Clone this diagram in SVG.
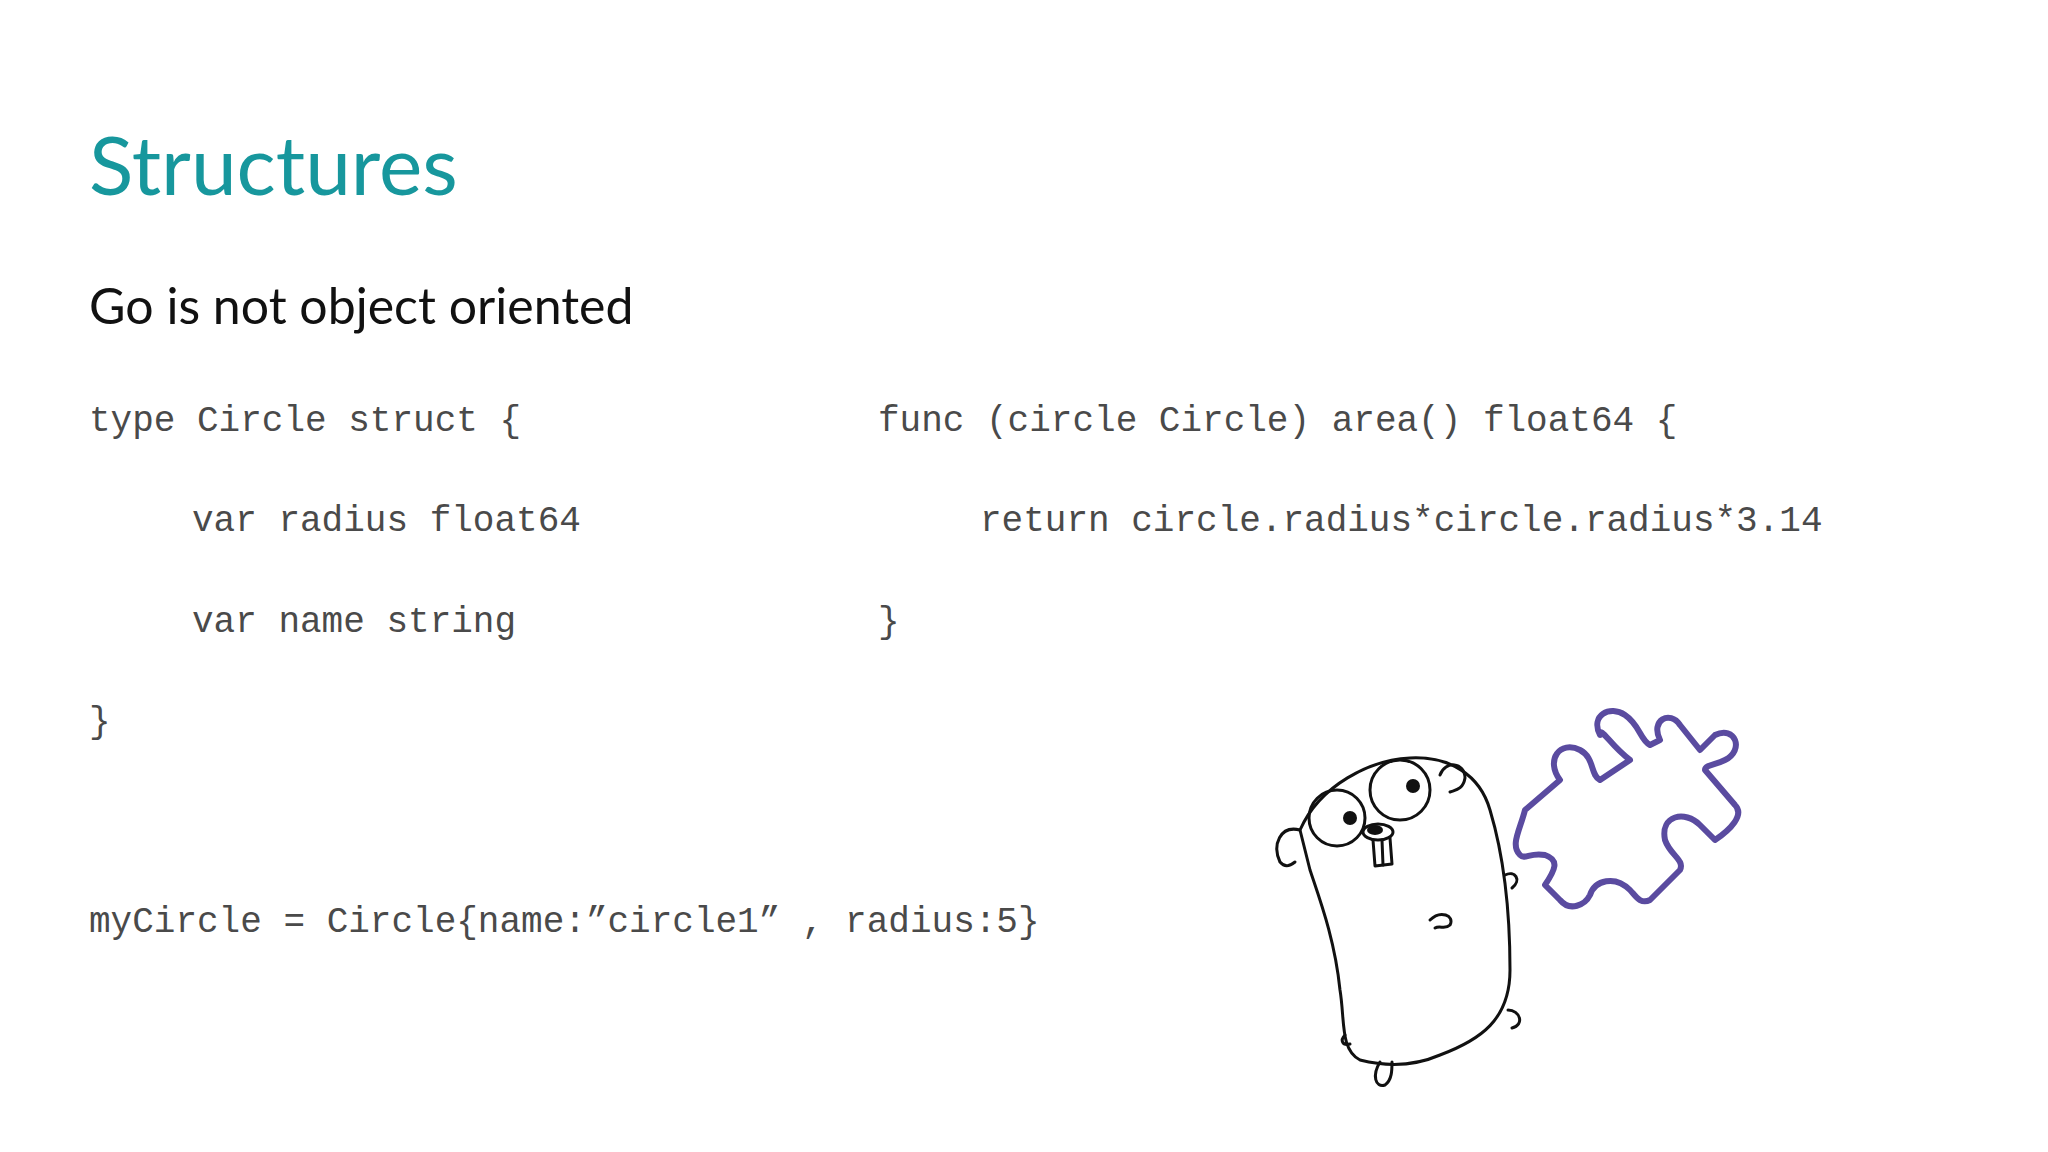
<svg xmlns="http://www.w3.org/2000/svg" width="2048" height="1152" viewBox="0 0 2048 1152">
<style>
.code{font-family:"Liberation Mono","DejaVu Sans Mono",monospace;font-size:36px;fill:#4a4a4a}
.ln{fill:none;stroke:#111;stroke-width:3;stroke-linecap:round;stroke-linejoin:round}
</style>
<rect width="2048" height="1152" fill="#ffffff"/>
<text x="89" y="195" font-family="Lato,'Liberation Sans',sans-serif" font-size="82" fill="#17979d">Structures</text>
<text x="89" y="324" font-family="Lato,'Liberation Sans',sans-serif" font-size="50" fill="#111">Go is not object oriented</text>
<g id="code">
<text class="code" x="89" y="431">type Circle struct {</text>
<text class="code" x="192" y="531">var radius float64</text>
<text class="code" x="192" y="632">var name string</text>
<text class="code" x="89" y="732">}</text>
<text class="code" x="878" y="431">func (circle Circle) area() float64 {</text>
<text class="code" x="980" y="531">return circle.radius*circle.radius*3.14</text>
<text class="code" x="878" y="632">}</text>
<text class="code" x="89" y="932">myCircle = Circle{name:”circle1” , radius:5}</text>
</g>
<g id="puzzle">
<path d="M1600,795 C1585,770 1600,745 1625,755 C1640,762 1630,790 1615,800 L1600,795 Z" fill="none"/>
<path fill="none" stroke="#5a4ba0" stroke-width="6" stroke-linejoin="round"
d="M1525,810 L1560,780 C1545,760 1560,740 1580,750 C1595,758 1590,775 1600,780 L1630,760 C1610,745 1600,725 1600,735 C1590,715 1610,705 1625,715 C1640,725 1640,740 1650,745 L1660,740 C1650,720 1670,710 1680,725 L1700,750 L1715,735 C1735,725 1745,750 1725,760 C1715,765 1705,765 1705,770 L1735,805 C1745,815 1730,830 1715,840 L1700,825 C1685,810 1660,815 1665,840 C1670,855 1685,860 1680,870 L1650,900 C1640,905 1635,895 1630,890 C1615,875 1595,880 1590,895 C1585,905 1570,912 1560,900 L1545,885 C1555,870 1560,860 1545,855 C1530,852 1525,860 1520,855 C1510,845 1520,830 1525,810 Z"/>
</g>
<g id="gopher">
<path class="ln" fill="#fff" d="M1300,830 C1320,785 1370,760 1410,758 C1450,756 1480,775 1490,810 C1505,860 1510,920 1510,970 C1510,1020 1480,1040 1440,1055 C1410,1068 1380,1065 1360,1060 C1340,1050 1345,1020 1340,990 C1335,940 1320,900 1310,870 Z"/>
<path class="ln" fill="#fff" d="M1300,830 C1280,825 1272,845 1280,862 C1285,868 1290,866 1295,862"/>
<path class="ln" fill="#fff" d="M1440,775 C1445,760 1465,762 1465,778 C1463,790 1455,790 1450,792"/>
<circle class="ln" fill="#fff" cx="1337" cy="818" r="28"/>
<circle class="ln" fill="#fff" cx="1400" cy="790" r="30"/>
<circle cx="1350" cy="818" r="7" fill="#111"/>
<circle cx="1413" cy="786" r="7" fill="#111"/>
<ellipse cx="1378" cy="832" rx="15" ry="8" class="ln" fill="#fff"/>
<ellipse cx="1375" cy="830" rx="8" ry="5" fill="#111"/>
<path class="ln" fill="#fff" d="M1373,840 L1375,866 L1392,864 L1390,838"/>
<line class="ln" x1="1382" y1="840" x2="1383" y2="865"/>
<path class="ln" d="M1430,920 C1440,910 1455,915 1450,925 C1445,930 1440,925 1435,928"/>
<path class="ln" fill="#fff" d="M1505,875 C1515,870 1522,880 1512,888"/>
<path class="ln" fill="#fff" d="M1508,1010 C1520,1010 1525,1025 1512,1028"/>
<path class="ln" fill="#fff" d="M1380,1062 C1372,1075 1375,1088 1385,1085 C1392,1080 1392,1070 1392,1062"/>
<path class="ln" d="M1345,1035 C1340,1040 1342,1046 1350,1044"/>
</g>
</svg>
